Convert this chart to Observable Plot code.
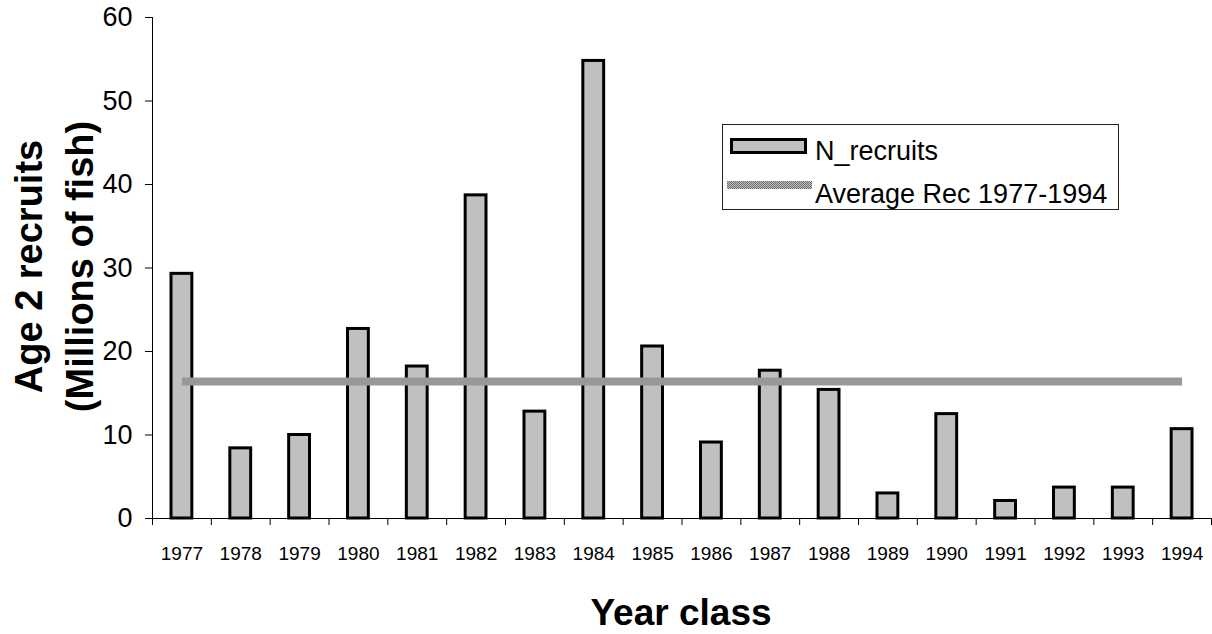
<!DOCTYPE html>
<html>
<head>
<meta charset="utf-8">
<script src="https://cdn.jsdelivr.net/npm/d3@7"></script>
<script src="https://cdn.jsdelivr.net/npm/@observablehq/plot@0.6"></script>
<style>
  html, body { margin: 0; padding: 0; background: #fff; }
  #chart { position: relative; width: 1212px; height: 634px; }
</style>
</head>
<body>
<div id="chart"></div>
<script>
// ---- data ----
const years = ["1977","1978","1979","1980","1981","1982","1983","1984","1985",
               "1986","1987","1988","1989","1990","1991","1992","1993","1994"];
const recruits = [29.3, 8.4, 10.0, 22.7, 18.2, 38.7, 12.8, 54.8, 20.6,
                  9.1, 17.7, 15.4, 3.0, 12.5, 2.1, 3.7, 3.7, 10.7];
const avgRec = 16.4;
const yTicks = [0, 10, 20, 30, 40, 50, 60];
const seriesNames = ["N_recruits", "Average Rec 1977-1994"];
const xTitle = "Year class";
const yTitle = ["Age 2 recruits", "(Millions of fish)"];

// ---- tables built from the arrays ----
const bars = years.map((year, i) => ({year, i, value: recruits[i]}));
const avgLine = years.map((year, i) => ({x: i + 0.5, y: avgRec}));

const FONT = "'Liberation Sans', Arial, Helvetica, sans-serif";

const plot = Plot.plot({
  width: 1212,
  height: 634,
  marginLeft: 152,
  marginRight: 1,
  marginTop: 17,
  marginBottom: 116,
  style: {fontFamily: FONT, color: "#000", background: "#fff", overflow: "visible"},
  x: {type: "linear", domain: [0, years.length], axis: null},
  y: {domain: [0, 60], axis: null},
  marks: [
    Plot.rectY(bars, {
      x1: "i", x2: d => d.i + 1, y: "value",
      fill: "#c0c0c0", stroke: "#000", strokeWidth: 3,
      insetLeft: 19, insetRight: 19
    }),
    Plot.lineY(avgLine, {x: "x", y: "y", stroke: "url(#dither)", strokeWidth: 8, strokeLinecap: "butt"}),
    Plot.ruleX([0], {stroke: "#000", strokeWidth: 1}),
    Plot.ruleY([0], {stroke: "#000", strokeWidth: 1}),
    Plot.axisY({ticks: yTicks, tickSize: 7, tickPadding: 13, fontSize: 27, label: null}),
    Plot.axisX({ticks: d3.range(years.length + 1), tickSize: 7, tickFormat: () => "", label: null}),
    Plot.axisX({
      ticks: years.map((_, i) => i + 0.5), tickSize: 0, tickPadding: 28, fontSize: 19,
      tickFormat: v => years[Math.floor(v)], label: null
    })
  ]
});

const svg = d3.select(plot);
svg.selectAll('g[aria-label="x-axis tick label"]').attr("font-size", 19);
svg.selectAll('g[aria-label="y-axis tick label"]').attr("font-size", 27);

// dithered grey pattern for the average line
const defs = svg.insert("defs", ":first-child");
const pat = defs.append("pattern").attr("id", "dither")
  .attr("width", 2).attr("height", 2).attr("patternUnits", "userSpaceOnUse");
pat.append("rect").attr("width", 2).attr("height", 2).attr("fill", "#c6c6c6");
pat.append("rect").attr("width", 1).attr("height", 1).attr("fill", "#6a6a6a");
pat.append("rect").attr("x", 1).attr("y", 1).attr("width", 1).attr("height", 1).attr("fill", "#6a6a6a");

// axis titles
const titles = svg.append("g").attr("font-family", FONT).attr("font-weight", "bold").attr("fill", "#000");
titles.append("text").attr("transform", "translate(42,266.5) rotate(-90)")
  .attr("text-anchor", "middle").attr("font-size", 38).text(yTitle[0]);
titles.append("text").attr("transform", "translate(93,266.5) rotate(-90)")
  .attr("text-anchor", "middle").attr("font-size", 38).text(yTitle[1]);
titles.append("text").attr("x", 681).attr("y", 625)
  .attr("text-anchor", "middle").attr("font-size", 37).text(xTitle);

// legend
const lg = svg.append("g").attr("font-family", FONT).attr("font-size", 27)
  .attr("fill", "#000").attr("text-anchor", "start");
lg.append("rect").attr("x", 722.5).attr("y", 124.5).attr("width", 396).attr("height", 85)
  .attr("fill", "#fff").attr("stroke", "#222").attr("stroke-width", 1);
lg.append("rect").attr("x", 731.5).attr("y", 139.5).attr("width", 74).attr("height", 13)
  .attr("fill", "#c0c0c0").attr("stroke", "#000").attr("stroke-width", 3);
lg.append("text").attr("x", 815).attr("y", 160).text(seriesNames[0]);
lg.append("line").attr("x1", 727).attr("x2", 812).attr("y1", 185).attr("y2", 185)
  .attr("stroke", "url(#dither)").attr("stroke-width", 8);
lg.append("text").attr("x", 815).attr("y", 202.5).text(seriesNames[1]);

document.getElementById("chart").appendChild(plot);
</script>
</body>
</html>
